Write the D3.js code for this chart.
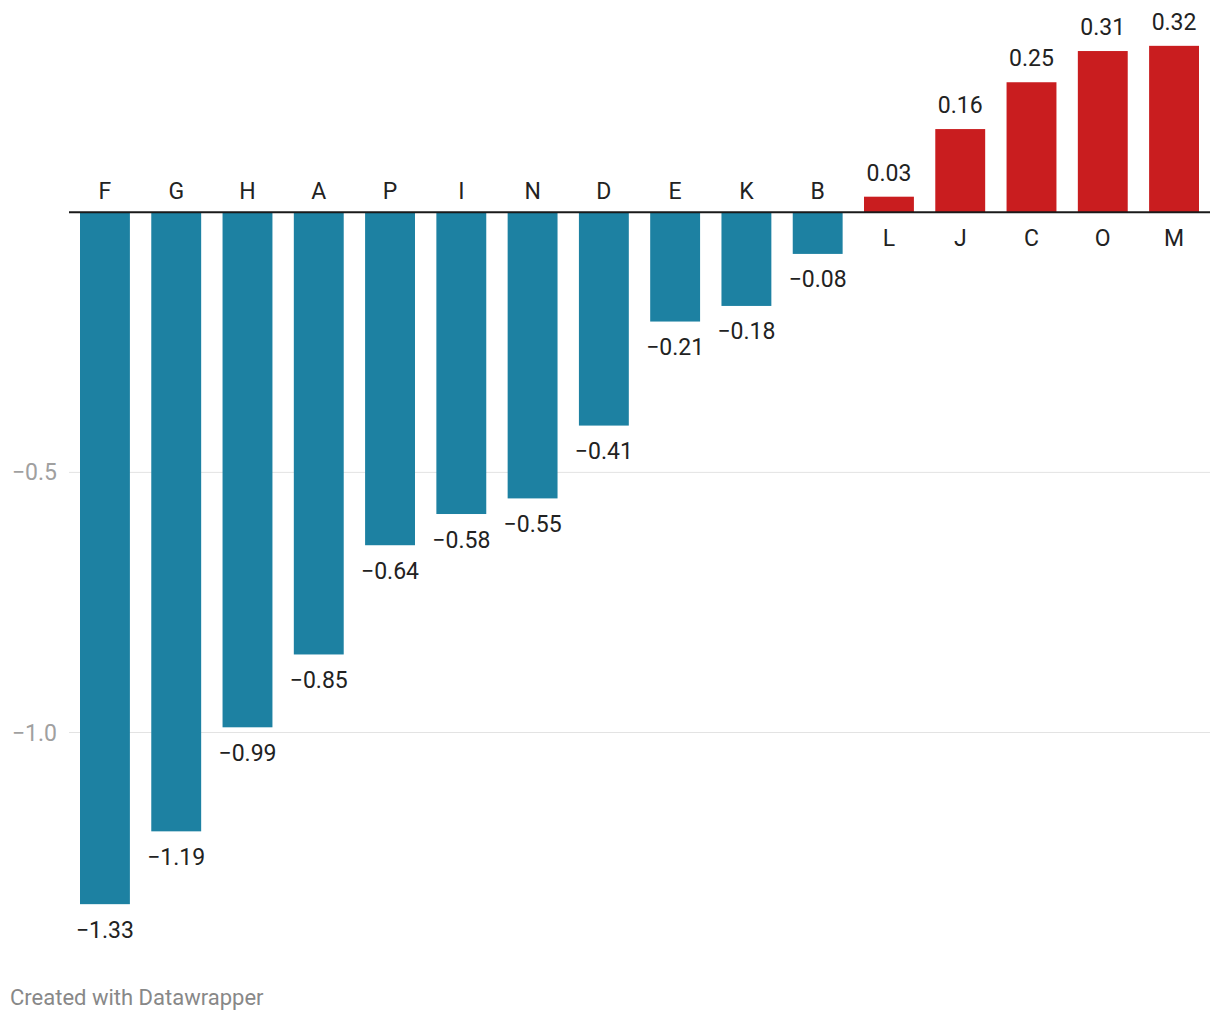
<!DOCTYPE html>
<html><head><meta charset="utf-8">
<script src="https://cdn.jsdelivr.net/npm/d3@7"></script>
<style>body{margin:0;background:#fff;font-family:Roboto,sans-serif;}</style>
</head><body>
<svg id="chart" width="1220" height="1020"></svg>
<script>
const categories = ["F","G","H","A","P","I","N","D","E","K","B","L","J","C","O","M"];
const values = [-1.33,-1.19,-0.99,-0.85,-0.64,-0.58,-0.55,-0.41,-0.21,-0.18,-0.08,0.03,0.16,0.25,0.31,0.32];
const yTicks = [-0.5,-1.0];
const tickLabels = ["−0.5","−1.0"];

const svg = d3.select("#chart");
const x = d3.scaleBand().domain(categories).range([80,1199]).paddingInner(0.3).paddingOuter(0);
const y = d3.scaleLinear().domain([0,-1]).range([212.3,732.5]);
const fmt = v => (v<0?"−":"") + Math.abs(v).toFixed(2);
const FS = 23;

// gridlines
svg.append("g").selectAll("line").data(yTicks).join("line")
  .attr("x1",69).attr("x2",1210).attr("y1",d=>y(d)).attr("y2",d=>y(d))
  .attr("stroke","#e3e3e3").attr("stroke-width",1);
svg.append("g").selectAll("text").data(yTicks).join("text")
  .attr("x",57).attr("y",d=>y(d)+8).attr("text-anchor","end")
  .attr("fill","#a0a0a0").attr("font-size",FS).text((d,i)=>tickLabels[i]);

// bars
svg.append("g").selectAll("rect").data(values).join("rect")
  .attr("x",(d,i)=>x(categories[i])).attr("width",x.bandwidth())
  .attr("y",d=>Math.min(y(d),y(0))).attr("height",d=>Math.abs(y(d)-y(0)))
  .attr("fill",d=>d<0?"#1d81a2":"#c91d1f");

// zero line
svg.append("line").attr("x1",69).attr("x2",1210).attr("y1",y(0)).attr("y2",y(0))
  .attr("stroke","#1a1a1a").attr("stroke-width",2);

// category labels
svg.append("g").selectAll("text").data(values).join("text")
  .attr("x",(d,i)=>x(categories[i])+x.bandwidth()/2)
  .attr("y",d=>d<0?y(0)-13:y(0)+34)
  .attr("text-anchor","middle").attr("fill","#222").attr("font-size",FS)
  .text((d,i)=>categories[i]);

// value labels
svg.append("g").selectAll("text").data(values).join("text")
  .attr("x",(d,i)=>x(categories[i])+x.bandwidth()/2)
  .attr("y",d=>d<0?y(d)+33.5:y(d)-16)
  .attr("text-anchor","middle").attr("fill","#222").attr("font-size",FS)
  .text(d=>fmt(d));

svg.append("text").attr("x",10).attr("y",1005).attr("fill","#888").attr("font-size",22)
  .text("Created with Datawrapper");
</script>
</body></html>
